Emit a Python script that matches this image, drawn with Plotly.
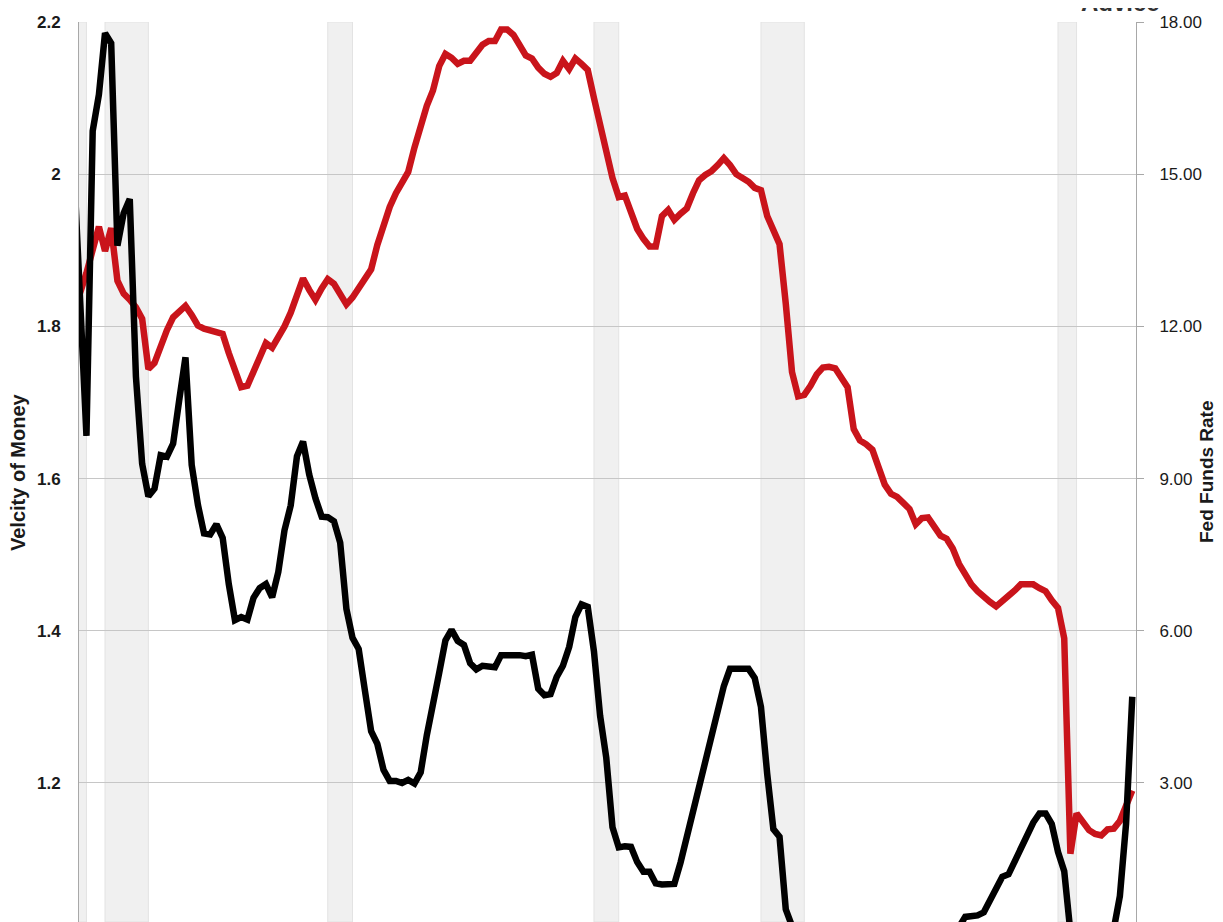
import pandas as pd
import plotly.graph_objects as go

# quarterly, 1980Q1 .. 2022Q4
quarters = pd.date_range("1980-01-01", "2022-10-01", freq="QS")

velocity = [
    1.83, 1.845, 1.87, 1.90, 1.931, 1.899, 1.929, 1.86, 1.843, 1.835,
    1.825, 1.81, 1.744, 1.752, 1.775, 1.795, 1.812, 1.82, 1.827, 1.815,
    1.801, 1.797, 1.795, 1.793, 1.79, 1.765, 1.742, 1.72, 1.722, 1.742,
    1.76, 1.778, 1.772, 1.785, 1.80, 1.818, 1.84, 1.863, 1.848, 1.835,
    1.85, 1.862, 1.856, 1.842, 1.829, 1.838, 1.85, 1.862, 1.875, 1.907,
    1.932, 1.957, 1.975, 1.99, 2.003, 2.035, 2.065, 2.09, 2.11, 2.142,
    2.158, 2.153, 2.145, 2.149, 2.149, 2.16, 2.17, 2.175, 2.175, 2.19,
    2.19, 2.183, 2.168, 2.156, 2.152, 2.14, 2.132, 2.128, 2.133, 2.149,
    2.138, 2.152, 2.145, 2.137, 2.10, 2.065, 2.03, 1.995, 1.97, 1.972,
    1.95, 1.928, 1.915, 1.905, 1.905, 1.945, 1.953, 1.94, 1.948, 1.955,
    1.975, 1.992, 1.999, 2.004, 2.012, 2.021, 2.012, 2.00, 1.995, 1.99,
    1.982, 1.979, 1.945, 1.925, 1.908, 1.83, 1.74, 1.708, 1.71, 1.722,
    1.737, 1.746, 1.747, 1.745, 1.732, 1.72, 1.665, 1.65, 1.645, 1.638,
    1.615, 1.592, 1.58, 1.576, 1.568, 1.56, 1.54, 1.548, 1.549, 1.535,
    1.525, 1.521, 1.508, 1.488, 1.474, 1.461, 1.452, 1.444, 1.438, 1.432,
    1.438, 1.446, 1.453, 1.461, 1.461, 1.461, 1.456, 1.452, 1.44, 1.43,
    1.39, 1.107, 1.16, 1.15, 1.138, 1.133, 1.131, 1.139, 1.14, 1.15,
    1.172, 1.19,
]

fed_funds = [
    15.05, 12.69, 9.84, 15.85, 16.57, 17.78, 17.58, 13.59, 14.23, 14.51,
    11.01, 9.29, 8.65, 8.80, 9.46, 9.43, 9.69, 10.56, 11.39, 9.27,
    8.48, 7.92, 7.90, 8.10, 7.83, 6.92, 6.21, 6.27, 6.22, 6.65,
    6.84, 6.92, 6.66, 7.16, 7.98, 8.47, 9.44, 9.73, 9.08, 8.61,
    8.25, 8.24, 8.16, 7.74, 6.43, 5.86, 5.64, 4.82, 4.02, 3.77,
    3.26, 3.04, 3.04, 3.00, 3.06, 2.99, 3.21, 3.94, 4.49, 5.17,
    5.81, 6.02, 5.80, 5.72, 5.36, 5.24, 5.31, 5.28, 5.28, 5.52,
    5.53, 5.51, 5.52, 5.50, 5.53, 4.86, 4.73, 4.75, 5.09, 5.31,
    5.68, 6.27, 6.52, 6.47, 5.59, 4.33, 3.50, 2.13, 1.73, 1.75,
    1.74, 1.44, 1.25, 1.25, 1.02, 1.00, 1.00, 1.01, 1.43, 1.95,
    2.47, 2.94, 3.46, 3.98, 4.46, 4.91, 5.25, 5.25, 5.26, 5.25,
    5.07, 4.50, 3.18, 2.09, 1.94, 0.51, 0.18, 0.18, 0.16, 0.12,
    0.13, 0.19, 0.19, 0.19, 0.16, 0.09, 0.08, 0.07, 0.10, 0.15,
    0.14, 0.16, 0.14, 0.12, 0.08, 0.09, 0.07, 0.09, 0.09, 0.10,
    0.11, 0.12, 0.13, 0.16, 0.36, 0.37, 0.39, 0.45, 0.70, 0.95,
    1.15, 1.20, 1.45, 1.74, 1.92, 2.22, 2.40, 2.40, 2.19, 1.64,
    1.26, 0.06, 0.09, 0.09, 0.08, 0.07, 0.09, 0.08, 0.12, 0.77,
    2.19, 4.70,
]

recessions = [
    ("1980-01-01", "1980-07-01"),
    ("1981-04-01", "1983-01-01"),
    ("1990-04-01", "1991-04-01"),
    ("2001-01-01", "2002-01-01"),
    ("2007-10-01", "2009-07-01"),
    ("2019-10-01", "2020-07-01"),
]

left_ticks = [1.2, 1.4, 1.6, 1.8, 2.0, 2.2]
left_text = ["1.2", "1.4", "1.6", "1.8", "2", "2.2"]
right_ticks = [3, 6, 9, 12, 15, 18]
right_text = ["3.00", "6.00", "9.00", "12.00", "15.00", "18.00"]

FONT = "Liberation Sans Narrow, Liberation Sans, Arial, sans-serif"
ylo, yhi = 1.0173, 2.2

fig = go.Figure()
fig.add_trace(go.Scatter(x=quarters, y=velocity, mode="lines", name="Velocity",
                         line=dict(color="#c9141b", width=6.5)))
fig.add_trace(go.Scatter(x=quarters, y=fed_funds, mode="lines", name="Fed Funds",
                         line=dict(color="#000000", width=6.5), yaxis="y2"))

for a, b in recessions:
    fig.add_shape(type="rect", xref="x", yref="y", x0=a, x1=b, y0=ylo, y1=yhi,
                  fillcolor="#f0f0f0", line=dict(color="#e3e3e3", width=1),
                  layer="below")

# page body adds an 8px offset, so the figure is a bit smaller than the window
fig.update_layout(
    width=1215, height=914,
    margin=dict(l=71, r=87, t=14, b=0),
    plot_bgcolor="white", paper_bgcolor="white",
    showlegend=False,
    font=dict(family=FONT, color="#1a1a1a"),
    xaxis=dict(range=["1980-03-13", "2022-11-25"], showgrid=False,
               showticklabels=False, zeroline=False, showline=False, ticks=""),
    yaxis=dict(range=[ylo, yhi], tickvals=left_ticks, ticktext=left_text,
               showgrid=True, gridcolor="#c6c6c6", gridwidth=1, zeroline=False,
               showline=True, linecolor="#a8a8a8", linewidth=1, ticks="",
               ticklabelstandoff=14,
               tickfont=dict(size=17, family=FONT, color="#1a1a1a", weight="bold")),
    yaxis2=dict(range=[(ylo - 1) * 15, 18], tickvals=right_ticks, ticktext=right_text,
                overlaying="y", side="right", showgrid=False, zeroline=False,
                showline=True, linecolor="#a8a8a8", linewidth=1,
                ticks="outside", ticklen=7, tickcolor="#a8a8a8",
                ticklabelstandoff=12,
                tickfont=dict(size=17, family=FONT, color="#1a1a1a")),
)

fig.add_annotation(text="Velcity of Money", xref="paper", yref="paper",
                   x=0, y=0.5, xanchor="center", xshift=-61, textangle=-90,
                   showarrow=False,
                   font=dict(size=20, family=FONT, color="#1a1a1a", weight="bold"))
fig.add_annotation(text="Fed Funds Rate", xref="paper", yref="paper",
                   x=1, y=0.5, xanchor="center", xshift=70, textangle=-90,
                   showarrow=False,
                   font=dict(size=19, family=FONT, color="#1a1a1a", weight="bold"))
fig.add_annotation(text="Advice", xref="paper", yref="paper",
                   x=1.025, y=1.0044, yanchor="bottom", showarrow=False,
                   font=dict(size=24, family=FONT, color="#333333", weight="bold"))

fig.write_html("out.html")
